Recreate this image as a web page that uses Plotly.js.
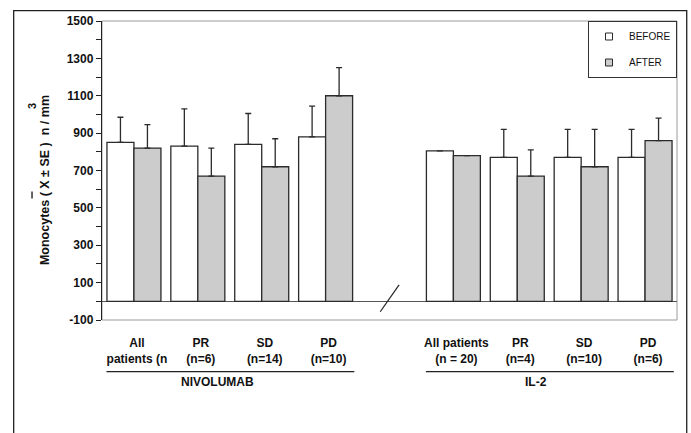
<!DOCTYPE html>
<html>
<head>
<meta charset="utf-8">
<script src="https://cdn.plot.ly/plotly-3.0.1.min.js"></script>
<style>html,body{margin:0;padding:0;background:#fff;}#chart{width:691px;height:433px;}</style>
</head>
<body>
<div id="chart"></div>
<script>
// ---- data ----
const categories = ["All<br>patients (n", "PR<br>(n=6)", "SD<br>(n=14)", "PD<br>(n=10)",
                    "All patients<br>(n = 20)", "PR<br>(n=4)", "SD<br>(n=10)", "PD<br>(n=6)"];
const groupOf = ["NIVOLUMAB", "NIVOLUMAB", "NIVOLUMAB", "NIVOLUMAB", "IL-2", "IL-2", "IL-2", "IL-2"];
const groups = ["NIVOLUMAB", "IL-2"];
const seriesNames = ["BEFORE", "AFTER"];
const beforeValues = [850, 830, 840, 880, 805, 770, 770, 770];
const beforeSE     = [135, 200, 165, 165, null, 150, 150, 150];
const afterValues  = [820, 670, 720, 1100, 780, 670, 720, 860];
const afterSE      = [125, 150, 150, 150, null, 140, 200, 120];
const yTickMin = -100, yTickMax = 1500;
const yTickText = ["-100", "100", "300", "500", "700", "900", "1100", "1300", "1500"];

// slot positions: one empty slot between the two treatment groups
const pos = [];
let slot = 0;
categories.forEach((c, i) => {
  if (i > 0 && groupOf[i] !== groupOf[i - 1]) slot += 1;
  pos.push(slot);
  slot += 1;
});

const font = "Liberation Sans, Arial, sans-serif";
const lineCol = "#2b2b2b";

function barTrace(name, vals, se, fill) {
  return {
    type: "bar", name: name, x: pos, y: vals, showlegend: false,
    marker: {color: fill, line: {color: lineCol, width: 1.3}},
    error_y: {type: "data", symmetric: false, array: se, arrayminus: se.map(v => v === null ? null : 0),
              color: lineCol, thickness: 1.3, width: 3},
    hoverinfo: "x+y"
  };
}
function legendProxy(name, fill) {
  return {type: "scatter", mode: "markers", name: name, x: [null], y: [null],
          legendgroup: name,
          marker: {symbol: "square", size: 7, color: fill, line: {color: lineCol, width: 1}}};
}

const fills = ["#ffffff", "#cccccc"];
const traces = [
  barTrace(seriesNames[0], beforeValues, beforeSE, fills[0]),
  barTrace(seriesNames[1], afterValues, afterSE, fills[1]),
  legendProxy(seriesNames[0], fills[0]),
  legendProxy(seriesNames[1], fills[1])
];

const shapes = [
  // outer frame
  {type: "rect", xref: "paper", yref: "paper", x0: -0.1536, x1: 1.0169, y0: -0.45, y1: 1.0344,
   line: {color: "#222", width: 1.3}},
  // plot area border
  {type: "rect", xref: "paper", yref: "paper", x0: 0, x1: 1, y0: 0, y1: 1,
   line: {color: "#9a9a9a", width: 1}, layer: "below"},
  // axis break slash
  {type: "line", xref: "x", yref: "y", x0: 3.855, x1: 4.15, y0: -56, y1: 88,
   line: {color: "#222", width: 1.2}},
  // overbar on X of the axis title
  {type: "line", xref: "paper", yref: "paper", x0: -0.1217, x1: -0.1217, y0: 0.4064, y1: 0.4298,
   line: {color: "#111", width: 1.3}}
];
const annotations = [
  {xref: "paper", yref: "paper", x: -0.0991, y: 0.468, xanchor: "center", yanchor: "middle",
   text: "Monocytes ( X ± SE )  n / mm",
   textangle: -90, showarrow: false, font: {family: font, size: 12.5, color: "#111", weight: "bold"}},
  {xref: "paper", yref: "paper", x: -0.1217, y: 0.7157, xanchor: "center", yanchor: "middle", text: "3",
   textangle: -90, showarrow: false, font: {family: font, size: 11, color: "#111", weight: "bold"}}
];
groups.forEach(g => {
  const ps = pos.filter((p, i) => groupOf[i] === g);
  const lo = Math.min(...ps), hi = Math.max(...ps);
  shapes.push({type: "line", xref: "x", yref: "paper", x0: lo - 0.43, x1: hi + 0.45, y0: -0.1729, y1: -0.1729,
               line: {color: "#222", width: 1.3}});
  annotations.push({xref: "x", yref: "paper", x: (lo + hi) / 2 - 0.2, y: -0.2074, xanchor: "center",
                    yanchor: "middle", text: g, showarrow: false,
                    font: {family: font, size: 12, color: "#111", weight: "bold"}});
});

const yTickVals = yTickText.map(Number);

const layout = {
  width: 691, height: 433,
  margin: {l: 102, r: 14, t: 21, b: 113},
  paper_bgcolor: "#fff", plot_bgcolor: "#fff",
  barmode: "group", bargap: 0.155, bargroupgap: 0,
  font: {family: font, color: "#111"},
  xaxis: {range: [-0.5, 8.5], tickvals: pos, ticktext: categories, ticks: "", showgrid: false,
          zeroline: false, showline: false, ticklabelstandoff: 14, ticklabelshift: 3,
          tickfont: {family: font, size: 12, color: "#111", weight: "bold"}},
  yaxis: {range: [yTickMin, yTickMax], tickvals: yTickVals, ticktext: yTickText, ticks: "outside", ticklen: 5,
          tickcolor: "#222", tickwidth: 1, showline: true, linecolor: "#222", linewidth: 1.2,
          showgrid: false, zeroline: true, zerolinecolor: "#555", zerolinewidth: 1.5,
          minor: {dtick: 100, tick0: yTickMin, ticks: "outside", ticklen: 5, tickcolor: "#222", showgrid: false},
          tickfont: {family: font, size: 12, color: "#111", weight: "bold"}},
  showlegend: true,
  legend: {x: 1, xanchor: "right", y: 1.0, yanchor: "top", bgcolor: "#fff",
           bordercolor: "#333", borderwidth: 1, tracegroupgap: 7, itemwidth: 30,
           font: {family: font, size: 10, color: "#111"}},
  shapes: shapes,
  annotations: annotations
};

Plotly.newPlot("chart", traces, layout, {displayModeBar: false, staticPlot: true});
</script>
</body>
</html>
